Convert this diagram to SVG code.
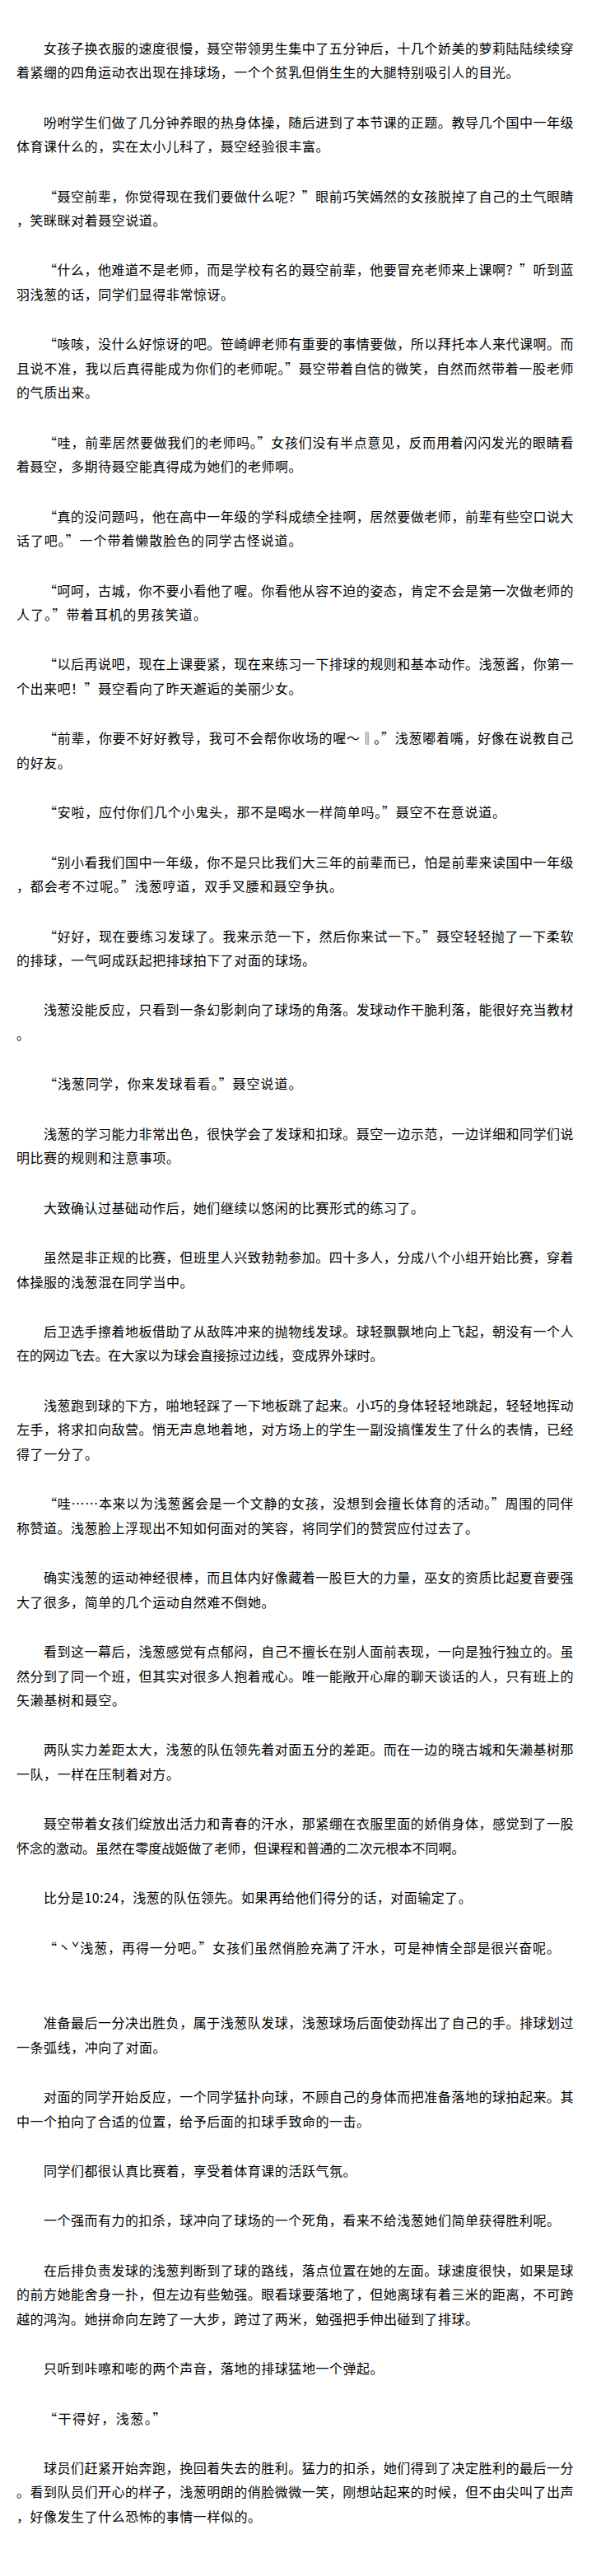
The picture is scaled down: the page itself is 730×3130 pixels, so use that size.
<svg xmlns="http://www.w3.org/2000/svg" width="730" height="3130" viewBox="0 0 730 3130">
<style>
.t{font-family:"Noto Sans CJK SC","Noto Sans CJK JP",sans-serif;font-size:16px;fill:#000;font-variant-east-asian:full-width}
.n{font-variant-east-asian:normal}
</style>
<rect x="0" y="0" width="730" height="3130" fill="#fff"/>
<g id="p1">
<text class="t" x="53" y="64.7" textLength="643.5">女孩子换衣服的速度很慢，聂空带领男生集中了五分钟后，十几个娇美的萝莉陆陆续续穿</text>
<text class="t" x="20" y="94.2" textLength="610.5">着紧绷的四角运动衣出现在排球场，一个个贫乳但俏生生的大腿特别吸引人的目光。</text>
</g>
<g id="p2">
<text class="t" x="53" y="154.6" textLength="643.5">吩咐学生们做了几分钟养眼的热身体操，随后进到了本节课的正题。教导几个国中一年级</text>
<text class="t" x="20" y="184.1" textLength="379.5">体育课什么的，实在太小儿科了，聂空经验很丰富。</text>
</g>
<g id="p3">
<text class="t" x="53" y="244.5" textLength="643.5">“聂空前辈，你觉得现在我们要做什么呢？”眼前巧笑嫣然的女孩脱掉了自己的土气眼睛</text>
<text class="t" x="20" y="274" textLength="181.5">，笑眯眯对着聂空说道。</text>
</g>
<g id="p4">
<text class="t" x="53" y="334.4" textLength="643.5">“什么，他难道不是老师，而是学校有名的聂空前辈，他要冒充老师来上课啊？”听到蓝</text>
<text class="t" x="20" y="363.9" textLength="264">羽浅葱的话，同学们显得非常惊讶。</text>
</g>
<g id="p5">
<text class="t" x="53" y="424.3" textLength="643.5">“咳咳，没什么好惊讶的吧。笹崎岬老师有重要的事情要做，所以拜托本人来代课啊。而</text>
<text class="t" x="20" y="453.8" textLength="676.5">且说不准，我以后真得能成为你们的老师呢。”聂空带着自信的微笑，自然而然带着一股老师</text>
<text class="t" x="20" y="483.3" textLength="99">的气质出来。</text>
</g>
<g id="p6">
<text class="t" x="53" y="543.7" textLength="643.5">“哇，前辈居然要做我们的老师吗。”女孩们没有半点意见，反而用着闪闪发光的眼睛看</text>
<text class="t" x="20" y="573.2" textLength="346.5">着聂空，多期待聂空能真得成为她们的老师啊。</text>
</g>
<g id="p7">
<text class="t" x="53" y="633.6" textLength="643.5">“真的没问题吗，他在高中一年级的学科成绩全挂啊，居然要做老师，前辈有些空口说大</text>
<text class="t" x="20" y="663.1" textLength="346.5">话了吧。”一个带着懒散脸色的同学古怪说道。</text>
</g>
<g id="p8">
<text class="t" x="53" y="723.5" textLength="643.5">“呵呵，古城，你不要小看他了喔。你看他从容不迫的姿态，肯定不会是第一次做老师的</text>
<text class="t" x="20" y="753" textLength="231">人了。”带着耳机的男孩笑道。</text>
</g>
<g id="p9">
<text class="t" x="53" y="813.4" textLength="643.5">“以后再说吧，现在上课要紧，现在来练习一下排球的规则和基本动作。浅葱酱，你第一</text>
<text class="t" x="20" y="842.9" textLength="346.5">个出来吧！”聂空看向了昨天邂逅的美丽少女。</text>
</g>
<g id="p10">
<text class="t" x="53" y="903.3" textLength="643.5">“前辈，你要不好好教导，我可不会帮你收场的喔～‖。”浅葱嘟着嘴，好像在说教自己</text>
<text class="t" x="20" y="932.8" textLength="66">的好友。</text>
</g>
<g id="p11">
<text class="t" x="53" y="993.2" textLength="561">“安啦，应付你们几个小鬼头，那不是喝水一样简单吗。”聂空不在意说道。</text>
</g>
<g id="p12">
<text class="t" x="53" y="1053.6" textLength="643.5">“别小看我们国中一年级，你不是只比我们大三年的前辈而已，怕是前辈来读国中一年级</text>
<text class="t" x="20" y="1083.1" textLength="396">，都会考不过呢。”浅葱哼道，双手叉腰和聂空争执。</text>
</g>
<g id="p13">
<text class="t" x="53" y="1143.5" textLength="643.5">“好好，现在要练习发球了。我来示范一下，然后你来试一下。”聂空轻轻抛了一下柔软</text>
<text class="t" x="20" y="1173" textLength="363">的排球，一气呵成跃起把排球拍下了对面的球场。</text>
</g>
<g id="p14">
<text class="t" x="53" y="1233.4" textLength="643.5">浅葱没能反应，只看到一条幻影刺向了球场的角落。发球动作干脆利落，能很好充当教材</text>
<text class="t" x="20" y="1262.9">。</text>
</g>
<g id="p15">
<text class="t" x="53" y="1323.3" textLength="313.5">“浅葱同学，你来发球看看。”聂空说道。</text>
</g>
<g id="p16">
<text class="t" x="53" y="1383.7" textLength="643.5">浅葱的学习能力非常出色，很快学会了发球和扣球。聂空一边示范，一边详细和同学们说</text>
<text class="t" x="20" y="1413.2" textLength="198">明比赛的规则和注意事项。</text>
</g>
<g id="p17">
<text class="t" x="53" y="1473.6" textLength="462">大致确认过基础动作后，她们继续以悠闲的比赛形式的练习了。</text>
</g>
<g id="p18">
<text class="t" x="53" y="1534" textLength="643.5">虽然是非正规的比赛，但班里人兴致勃勃参加。四十多人，分成八个小组开始比赛，穿着</text>
<text class="t" x="20" y="1563.5" textLength="214.5">体操服的浅葱混在同学当中。</text>
</g>
<g id="p19">
<text class="t" x="53" y="1623.9" textLength="643.5">后卫选手擦着地板借助了从敌阵冲来的抛物线发球。球轻飘飘地向上飞起，朝没有一个人</text>
<text class="t" x="20" y="1653.4" textLength="445.5">在的网边飞去。在大家以为球会直接掠过边线，变成界外球时。</text>
</g>
<g id="p20">
<text class="t" x="53" y="1713.8" textLength="643.5">浅葱跑到球的下方，啪地轻踩了一下地板跳了起来。小巧的身体轻轻地跳起，轻轻地挥动</text>
<text class="t" x="20" y="1743.3" textLength="676.5">左手，将求扣向敌营。悄无声息地着地，对方场上的学生一副没搞懂发生了什么的表情，已经</text>
<text class="t" x="20" y="1772.8" textLength="99">得了一分了。</text>
</g>
<g id="p21">
<text class="t" x="53" y="1833.2" textLength="643.5">“哇……本来以为浅葱酱会是一个文静的女孩，没想到会擅长体育的活动。”周围的同伴</text>
<text class="t" x="20" y="1862.7" textLength="561">称赞道。浅葱脸上浮现出不知如何面对的笑容，将同学们的赞赏应付过去了。</text>
</g>
<g id="p22">
<text class="t" x="53" y="1923.1" textLength="643.5">确实浅葱的运动神经很棒，而且体内好像藏着一股巨大的力量，巫女的资质比起夏音要强</text>
<text class="t" x="20" y="1952.6" textLength="313.5">大了很多，简单的几个运动自然难不倒她。</text>
</g>
<g id="p23">
<text class="t" x="53" y="2013" textLength="643.5">看到这一幕后，浅葱感觉有点郁闷，自己不擅长在别人面前表现，一向是独行独立的。虽</text>
<text class="t" x="20" y="2042.5" textLength="676.5">然分到了同一个班，但其实对很多人抱着戒心。唯一能敞开心扉的聊天谈话的人，只有班上的</text>
<text class="t" x="20" y="2072" textLength="132">矢濑基树和聂空。</text>
</g>
<g id="p24">
<text class="t" x="53" y="2132.4" textLength="643.5">两队实力差距太大，浅葱的队伍领先着对面五分的差距。而在一边的晓古城和矢濑基树那</text>
<text class="t" x="20" y="2161.9" textLength="198">一队，一样在压制着对方。</text>
</g>
<g id="p25">
<text class="t" x="53" y="2222.3" textLength="643.5">聂空带着女孩们绽放出活力和青春的汗水，那紧绷在衣服里面的娇俏身体，感觉到了一股</text>
<text class="t" x="20" y="2251.8" textLength="544.5">怀念的激动。虽然在零度战姬做了老师，但课程和普通的二次元根本不同啊。</text>
</g>
<g id="p26">
<text class="t n" x="53" y="2312.2" textLength="519.75">比分是10:24，浅葱的队伍领先。如果再给他们得分的话，对面输定了。</text>
</g>
<g id="p27">
<text class="t" x="53" y="2372.6" textLength="627">“丶ˇ浅葱，再得一分吧。”女孩们虽然俏脸充满了汗水，可是神情全部是很兴奋呢。</text>
</g>
<g id="p28">
<text class="t" x="53" y="2464.1" textLength="643.5">准备最后一分决出胜负，属于浅葱队发球，浅葱球场后面使劲挥出了自己的手。排球划过</text>
<text class="t" x="20" y="2493.6" textLength="181.5">一条弧线，冲向了对面。</text>
</g>
<g id="p29">
<text class="t" x="53" y="2554" textLength="643.5">对面的同学开始反应，一个同学猛扑向球，不顾自己的身体而把准备落地的球拍起来。其</text>
<text class="t" x="20" y="2583.5" textLength="429">中一个拍向了合适的位置，给予后面的扣球手致命的一击。</text>
</g>
<g id="p30">
<text class="t" x="53" y="2643.9" textLength="379.5">同学们都很认真比赛着，享受着体育课的活跃气氛。</text>
</g>
<g id="p31">
<text class="t" x="53" y="2704.3" textLength="627">一个强而有力的扣杀，球冲向了球场的一个死角，看来不给浅葱她们简单获得胜利呢。</text>
</g>
<g id="p32">
<text class="t" x="53" y="2764.7" textLength="643.5">在后排负责发球的浅葱判断到了球的路线，落点位置在她的左面。球速度很快，如果是球</text>
<text class="t" x="20" y="2794.2" textLength="676.5">的前方她能舍身一扑，但左边有些勉强。眼看球要落地了，但她离球有着三米的距离，不可跨</text>
<text class="t" x="20" y="2823.7" textLength="561">越的鸿沟。她拼命向左跨了一大步，跨过了两米，勉强把手伸出碰到了排球。</text>
</g>
<g id="p33">
<text class="t" x="53" y="2884.1" textLength="412.5">只听到咔嚓和嘭的两个声音，落地的排球猛地一个弹起。</text>
</g>
<g id="p34">
<text class="t" x="53" y="2944.5" textLength="148.5">“干得好，浅葱。”</text>
</g>
<g id="p35">
<text class="t" x="53" y="3004.9" textLength="643.5">球员们赶紧开始奔跑，挽回着失去的胜利。猛力的扣杀，她们得到了决定胜利的最后一分</text>
<text class="t" x="20" y="3034.4" textLength="676.5">。看到队员们开心的样子，浅葱明朗的俏脸微微一笑，刚想站起来的时候，但不由尖叫了出声</text>
<text class="t" x="20" y="3063.9" textLength="297">，好像发生了什么恐怖的事情一样似的。</text>
</g>
</svg>
